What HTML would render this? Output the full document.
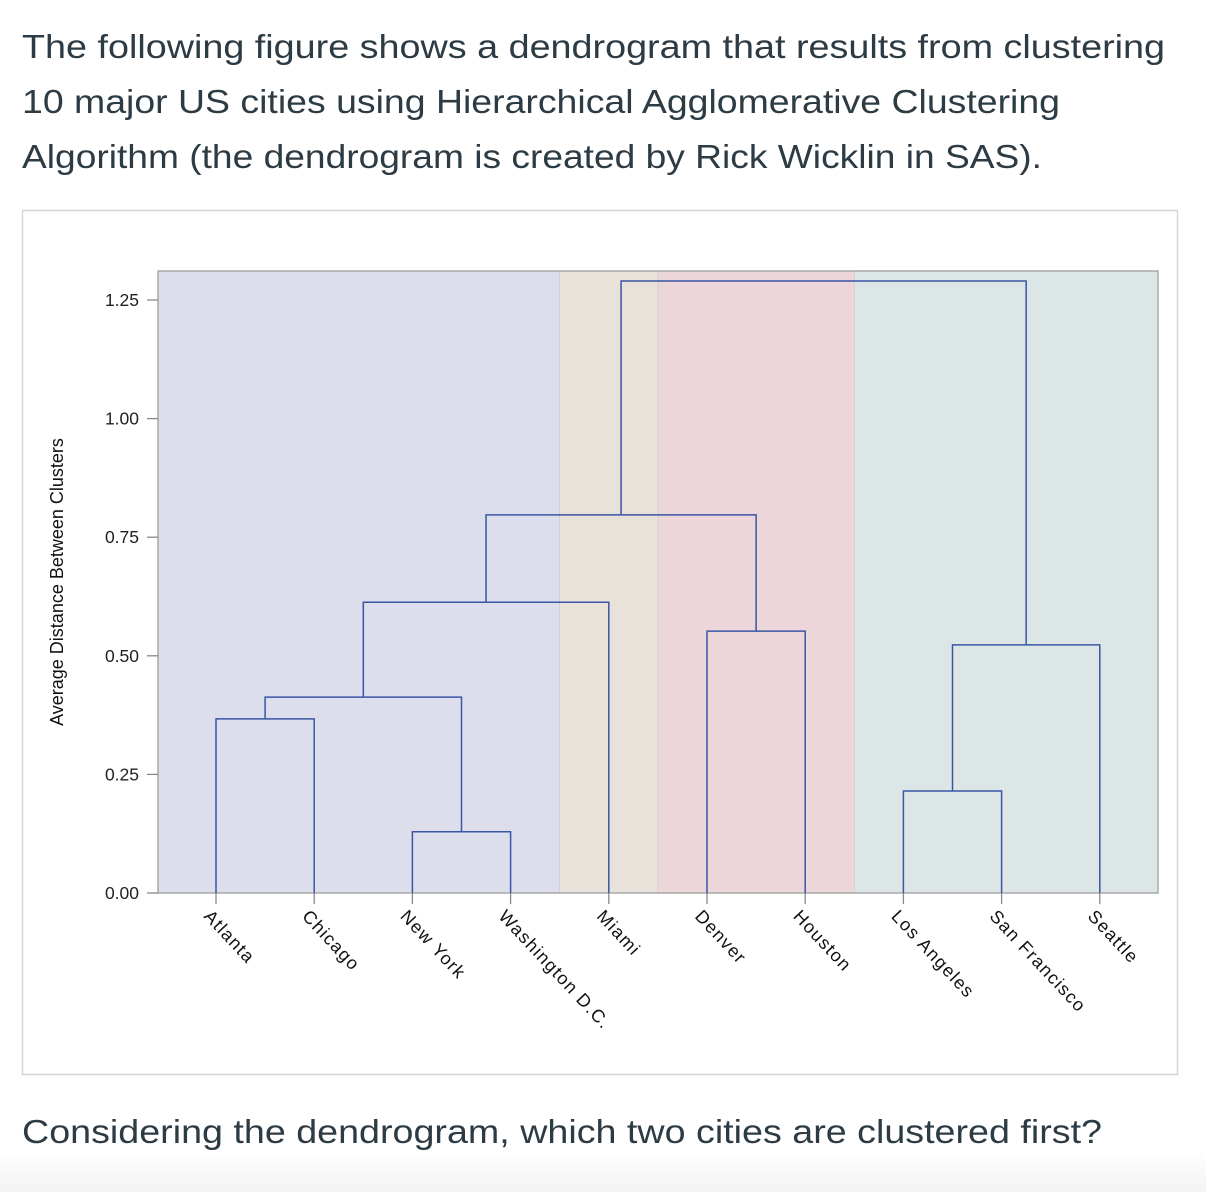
<!DOCTYPE html>
<html><head><meta charset="utf-8"><style>
html,body{margin:0;padding:0;background:#fff;}
body{width:1206px;height:1192px;overflow:hidden;background:linear-gradient(#fff 0,#fff 1150px,#f3f3f3 1192px);}
svg{display:block;}
</style></head><body>
<svg id="fig" width="1206" height="1192" xmlns="http://www.w3.org/2000/svg">
<g font-family="'Liberation Sans', sans-serif" fill="#2d3b45" font-size="33">
<text x="22" y="58" textLength="1143" lengthAdjust="spacingAndGlyphs">The following figure shows a dendrogram that results from clustering</text>
<text x="22" y="113" textLength="1038" lengthAdjust="spacingAndGlyphs">10 major US cities using Hierarchical Agglomerative Clustering</text>
<text x="22" y="168" textLength="1020" lengthAdjust="spacingAndGlyphs">Algorithm (the dendrogram is created by Rick Wicklin in SAS).</text>
<text x="22" y="1143" textLength="1080" lengthAdjust="spacingAndGlyphs">Considering the dendrogram, which two cities are clustered first?</text>
</g>
<rect x="22.5" y="210.5" width="1155" height="864" fill="#fff" stroke="#d6d6d6" stroke-width="1.5"/>
<g id="plot"></g>
</svg>
<script>
const cities = ["Atlanta","Chicago","New York","Washington D.C.","Miami","Denver","Houston","Los Angeles","San Francisco","Seattle"];
const mergeLeft = [2,0,"m1","m2",5,7,"m5","m3","m7"];
const mergeRight = [3,1,"m0",4,6,8,9,"m4","m6"];
const mergeHeight = [0.129,0.367,0.413,0.613,0.552,0.215,0.523,0.797,1.29];
const tickValues = [0,0.25,0.5,0.75,1.0,1.25];
const tickLabels = ["0.00","0.25","0.50","0.75","1.00","1.25"];
const bandColors = ["#dcdeeb","#e8e2da","#edd6d9","#dce6e7"];
const bandStart = [0,4,5,7];
const bandEnd = [3,4,6,9];
</script>
<script>
const NS="http://www.w3.org/2000/svg";
const g=document.getElementById('plot');
const PL=158,PR=1158,PT=271,PB=893;
const step=98.2;
const xs=i=>216+step*i;
const ys=v=>PB-v*474.4;
function el(t,a,p){const e=document.createElementNS(NS,t);for(const k in a)e.setAttribute(k,a[k]);(p||g).appendChild(e);return e;}
for(let b=0;b<bandColors.length;b++){
 const x0=bandStart[b]===0?PL:xs(bandStart[b])-step/2;
 const x1=bandEnd[b]===cities.length-1?PR:xs(bandEnd[b])+step/2;
 const r=el('rect',{x:x0,y:PT,width:x1-x0,height:PB-PT,fill:bandColors[b],stroke:'#d0c8c8','stroke-width':0.6});
 
 
}
const fr=el('rect',{x:PL,y:PT,width:PR-PL,height:PB-PT,fill:'none',stroke:'#a8a8a8','stroke-width':1.5});


for(let i=0;i<tickValues.length;i++){
 const y=ys(tickValues[i]);
 const t=el('line',{x1:147,x2:PL,y1:y,y2:y,stroke:'#888','stroke-width':1.3});
 
 
 const tx=el('text',{x:139,y:y+6,'text-anchor':'end','font-family':"'Liberation Sans',sans-serif",'font-size':17.5,fill:'#222'});
 tx.textContent=tickLabels[i];
 
 
}
const yt=el('text',{transform:'translate(63,582) rotate(-90)','text-anchor':'middle','font-family':"'Liberation Sans',sans-serif",'font-size':18,fill:'#111'});
yt.textContent='Average Distance Between Clusters';


const pos={},hgt={};
for(let i=0;i<cities.length;i++){
 const x=xs(i);
 const t=el('line',{x1:x,x2:x,y1:PB,y2:PB+11,stroke:'#888','stroke-width':1.3});
 
 
 const tx=el('text',{transform:`translate(${x-13},${PB+24}) rotate(47)`,'font-family':"'Liberation Sans',sans-serif",'font-size':18,'letter-spacing':1.3,fill:'#111'});
 tx.textContent=cities[i];
 
 
 pos[i]=x;hgt[i]=0;
}
const lines=el('g',{});
for(let m=0;m<mergeLeft.length;m++){
 const a=mergeLeft[m],b=mergeRight[m],h=ys(mergeHeight[m]);
 const xa=pos[a],xb=pos[b],ya=ys(hgt[a]),yb=ys(hgt[b]);
 const p=el('path',{d:`M${xa},${ya}V${h}H${xb}V${yb}`,fill:'none',stroke:'#3a55a5','stroke-width':1.5},lines);
 
 
 pos['m'+m]=(xa+xb)/2;hgt['m'+m]=mergeHeight[m];
}
</script>
</body></html>
